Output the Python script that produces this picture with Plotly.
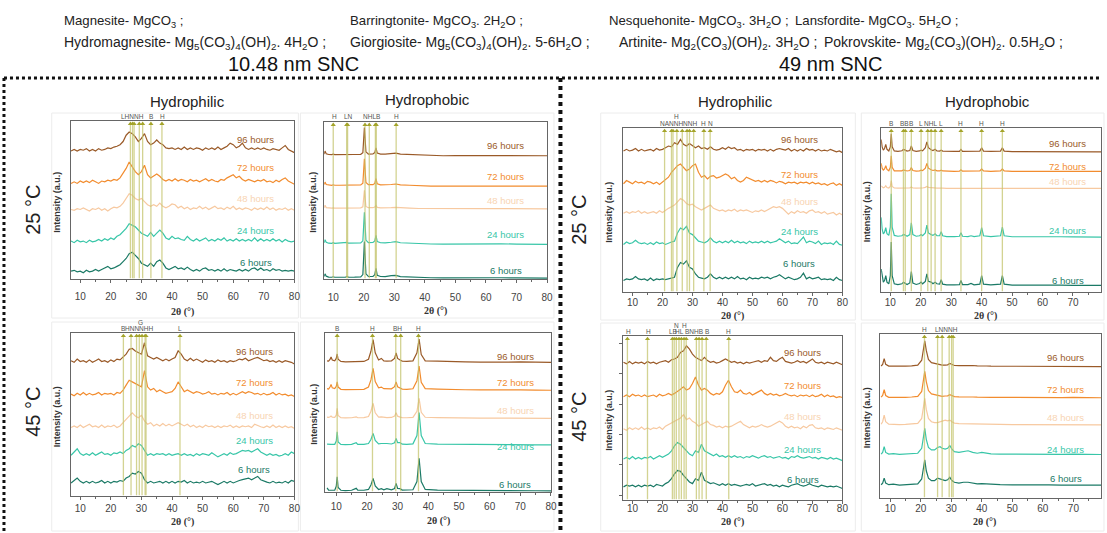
import plotly.graph_objects as go

W, H = 1107, 533

def px(x):
    return x / W

def py(y):
    return 1 - y / H

# ---------------- data ----------------
HOURS = ["96 hours", "72 hours", "48 hours", "24 hours", "6 hours"]
TT = list(range(7, 81))  # 2-theta grid (1 deg) for hydrophilic scans

# 10.48 nm SNC, hydrophilic, 25 C  (intensity above each baseline)
sm_phil25_96 = [1, 2, 1, 2, 1.5, 2.5, 1, 2, 1, 2.5, 1.5, 2, 3, 2.5, 3.5, 4, 5, 7, 11, 13,
                12, 10, 7, 9, 12, 7, 5, 6, 8, 6, 5, 3, 2.5, 3, 2, 3, 2, 3.5, 2, 3,
                2, 3, 2.5, 1.5, 3, 2, 3, 2, 3.5, 2, 3, 4, 6, 5, 3, 4, 6, 3, 2, 3,
                2, 3, 2, 3, 2, 1.5, 2.5, 2, 1.5, 3, 4.5, 2, 1, 0]
sm_phil25_72 = [0.5, 1.5, 0.5, 2, 1, 2, 1, 2.5, 1.5, 0.5, 2, 1.5, 2.5, 2, 3, 2.5, 4, 7, 10, 14,
                11, 8, 6, 8, 12, 6, 4, 5, 6.5, 5, 3, 2, 3, 2, 3.5, 2, 3, 2.5, 1.5, 3,
                2, 2.5, 1.5, 2.5, 3.5, 2, 3, 2, 1.5, 3, 2.5, 4, 5, 6, 4, 5, 3, 2, 3, 2,
                1.5, 2.5, 2, 3, 1.5, 2, 1, 2.5, 1.5, 3, 4, 2, 1, 0]
sm_phil25_48 = [1, 0.5, 1.5, 1, 2, 1, 0, 1.5, 1, 2, 0.5, 1.5, 0, 1.5, 2.5, 2, 3, 5, 8, 11,
                10, 8, 7, 8, 6, 4, 3, 4, 3, 5, 3, 2, 3, 4.5, 4, 2, 3, 1.5, 2.5, 1,
                2, 1.5, 3, 1.5, 2.5, 1, 2, 3, 1.5, 2, 1, 2.5, 1.5, 3, 1, 2, 1, 2, 1.5, 0.5,
                2, 1, 2, 1, 2.5, 1, 2, 0.5, 1.5, 1, 2, 0.5, 1.5, 0.5]
sm_phil25_24 = [1, 0, 1.5, 0.5, 1, 0, 1.5, 0.5, 1, 2, 1, 2.5, 1.5, 3, 2, 4, 5, 7, 9, 12,
                11, 10, 8, 6, 5, 4, 6.5, 4, 6, 8, 6, 3, 2, 4, 2.5, 3, 2, 1.5, 4, 2,
                1, 2.5, 1, 2, 3, 1, 2, 1, 2.5, 1.5, 3, 1, 2, 1, 2.5, 1, 2, 1, 2, 1,
                3, 1, 2.5, 1, 2, 1, 2.5, 1, 2, 0.5, 2, 1, 0.5, 1]
sm_phil25_6 = [1, 1.5, 0.5, 1, 0, 1.5, 0.5, 1, 2, 1, 2, 3, 4, 2.5, 3, 4, 5, 7, 9, 12,
               13, 11, 9, 6, 5, 4, 6, 4, 7, 8, 6, 3, 2, 3, 4, 2.5, 3, 2, 3.5, 2,
               1, 2, 1, 2.5, 3, 1.5, 2, 1, 2, 1, 2.5, 1, 2, 1.5, 1, 2, 1, 2, 1, 2.5,
               3, 1.5, 3, 1.5, 2, 1, 2.5, 1.5, 2, 1, 1.5, 1, 1.5, 1]
sm_phil25_offset = [80, 60, 43, 23, 4]
sm_phil25_peaks = [26.4, 27.1, 27.6, 29.3, 30.4, 33.1, 36.7]
sm_phil25_tags = ["LHNNH", "B", "H"]
sm_phil25_tag_x = [27.0, 33.1, 36.9]

# 10.48 nm SNC, hydrophilic, 45 C
sm_phil45_96 = [2, 1, 3, 1.5, 2, 1, 2.5, 1, 2, 3, 1.5, 2, 1, 2.5, 1.5, 3, 2.5, 4, 6, 9,
                9.5, 8, 7, 6, 13, 5, 4, 3, 4, 3, 2, 3, 2, 3, 4, 8, 6, 3, 2, 3.5,
                2, 3, 2, 1, 2.5, 1.5, 2, 1, 2.5, 1.5, 2, 1, 2, 1.5, 2, 3, 2.5, 3.5, 2, 3,
                3.5, 4, 3, 2, 2.5, 1.5, 2, 1, 2, 1, 2, 1.5, 1, 0]
sm_phil45_72 = [1.5, 0.5, 2, 1, 2.5, 1, 2, 1, 1.5, 2.5, 1, 2, 1.5, 2, 1, 2.5, 2, 4, 7, 10,
                9, 8, 7, 6, 16, 6, 4, 5, 3, 4, 3, 2, 2.5, 3, 5, 9, 6, 3, 4, 3,
                2, 3, 2.5, 1.5, 2, 3, 1.5, 2, 1, 2, 1.5, 2.5, 1, 2, 1, 2, 3, 2, 3, 2.5,
                1.5, 2, 1, 2, 1, 1.5, 2.5, 1, 2, 1, 1.5, 0.5, 1, 0]
sm_phil45_48 = [1, 2, 1, 2.5, 1, 2, 3, 1.5, 2, 1, 2.5, 1, 2, 1.5, 2.5, 1, 2, 4, 6, 8,
                10, 8, 7, 8.5, 5, 3, 4, 2, 3, 2, 3.5, 2, 3, 2, 3, 4, 3, 2, 3, 1.5,
                2.5, 1, 2, 1, 2.5, 1.5, 2, 1, 2, 1, 2, 1.5, 2.5, 1, 2, 1, 2, 1.5, 2, 1,
                3, 2, 1.5, 1, 2, 1, 2.5, 1, 2, 1, 2, 1, 1.5, 0.5]
sm_phil45_24 = [1, 3, 5, 2, 1, 2, 1, 2.5, 1, 2, 3, 1.5, 2, 1, 2.5, 2, 3, 2, 4, 5,
                7, 6, 8, 7, 4, 1, 2, 1, 2, 1.5, 2, 1, 2, 1, 1.5, 2, 1, 2, 1, 1.5,
                0.5, 2, 1, 2, 1.5, 1, 2.5, 1, 0, 1, 2, 1, 2.5, 1.5, 2, 3, 4, 3.5, 4, 3,
                4, 5, 3, 2, 1, 2, 1, 1.5, 0.5, 1, 2, 1, 3, 2]
sm_phil45_6 = [1, 2.5, 4, 2, 1, 2, 1, 2, 1, 1.5, 2.5, 1, 2, 1, 2, 1.5, 2.5, 2, 4, 5,
               7, 6.5, 8, 7, 3, 1, 2, 1, 1.5, 2, 1, 2, 1, 2, 1, 2, 1.5, 2.5, 1, 2,
               1, 1.5, 1, 2, 1, 1.5, 2, 1, 0, 1, 2, 1, 2, 1, 2, 2.5, 3, 3.5, 4, 3,
               4, 5, 3, 2, 1.5, 1, 2, 1, 1.5, 1, 2, 1, 2.5, 2]
sm_phil45_offset = [81, 61, 41, 24, 7]
sm_phil45_peaks = [24.1, 26.6, 28.4, 29.3, 30.2, 31.2, 31.5, 42.6]
sm_phil45_tags = ["B", "HNNNHH", "L"]
sm_phil45_tag_x = [24.1, 29.1, 42.6]
sm_phil45_top_tags = ["G"]
sm_phil45_top_x = [29.6]

# 10.48 nm SNC, hydrophobic, 25 C
sm_phob25_x = [7, 7.3, 7.7, 8.5, 9.5, 10, 10.5, 12, 14, 14.5, 15, 17, 19, 19.7, 20.2, 20.7, 21.5,
               23, 23.6, 24, 24.4, 25.5, 27, 29, 30.5, 32, 35, 38, 42, 46, 50, 55, 60, 65, 70, 75, 80]
sm_phob25_96 = [0.5, 2.5, 0.8, 0.3, 0.2, 0.5, 0.2, 0.3, 0.2, 0.6, 0.2, 0.3, 0.4, 1.5, 17.5, 2.0, 0.6,
                0.7, 1.5, 4.5, 1.2, 0.6, 0.5, 0.8, 1.2, 0.5, 0.3, -0.3, -0.5, -0.5, -0.4, -0.5, -0.4, -0.3, -0.5, -0.4, -0.5]
sm_phob25_72 = [0.6, 2.2, 0.7, 0.3, 0.2, 0.5, 0.2, 0.2, 0.3, 0.6, 0.2, 0.3, 0.4, 1.5, 17.0, 2.0, 0.6,
                0.6, 1.4, 4.5, 1.1, 0.5, 0.4, 0.7, 1.0, 0.4, 0.2, -0.2, -0.4, -0.4, -0.3, -0.4, -0.3, -0.3, -0.4, -0.3, -0.4]
sm_phob25_48 = [0.4, 2.0, 0.5, 0.2, 0.1, 0.3, 0.1, 0.2, 0.1, 0.4, 0.1, 0.2, 0.3, 1.0, 11.5, 1.2, 0.4,
                0.4, 0.8, 1.8, 0.6, 0.3, 0.2, 0.4, 0.6, 0.3, 0.1, -0.1, -0.2, -0.2, -0.2, -0.3, -0.2, -0.2, -0.3, -0.2, -0.3]
sm_phob25_24 = [0.6, 2.5, 0.9, 0.3, 0.2, 0.6, 0.2, 0.3, 0.3, 0.8, 0.3, 0.3, 0.5, 1.8, 20.0, 2.3, 0.7,
                0.8, 1.8, 5.3, 1.3, 0.6, 0.5, 0.9, 1.3, 0.6, 0.3, 0.0, -0.2, -0.3, -0.2, -0.3, -0.2, -0.1, -0.3, -0.2, -0.4]
sm_phob25_6 = [0.8, 2.5, 1.0, 0.4, 0.3, 0.6, 0.3, 0.4, 0.3, 0.9, 0.3, 0.4, 0.6, 2.0, 23.0, 2.5, 0.8,
               0.9, 2.0, 6.0, 1.5, 0.8, 0.7, 1.3, 1.5, 0.7, 0.4, 0.2, 0.0, -0.1, 0.0, -0.1, 0.0, 0.0, -0.1, 0.0, -0.2]
sm_phob25_offset = [79, 59.5, 45, 22.5, 0.8]
sm_phob25_peaks = [10.0, 14.4, 14.7, 20.4, 21.8, 23.8, 24.1, 30.6]
sm_phob25_tags = ["H", "LN", "NHLB", "H"]
sm_phob25_tag_x = [10.3, 15.0, 22.6, 30.6]

# 10.48 nm SNC, hydrophobic, 45 C
sm_phob45_x = [7, 7.5, 8, 8.3, 8.7, 9.5, 10, 10.3, 10.6, 11.5, 13, 15, 16.5, 17, 19, 20.5, 21.3, 22, 22.7,
               23.8, 24.7, 25.5, 26.5, 28, 29, 29.5, 30, 30.8, 31.5, 33, 35, 36.3, 37, 37.7, 39, 43, 47, 52,
               57, 61, 65, 70, 75, 80]
sm_phob45_96 = [1.0, 0.8, 2.0, 3.4, 1.5, 1.0, 2.5, 5.3, 2.0, 0.6, 0.4, 0.5, 0.9, 0.5, 0.6, 2.0, 7.0, 14.3, 6.0,
                1.5, 2.5, 1.0, 0.8, 1.0, 2.5, 5.9, 2.5, 1.5, 0.8, 0.6, 1.0, 6.0, 14.7, 5.0, 1.0, 0.8, 0.4, 0.3,
                0.2, 0.4, 0.2, 0.3, 0.1, 0.0]
sm_phob45_72 = [1.0, 0.8, 2.2, 3.6, 1.5, 1.0, 2.5, 5.3, 2.0, 0.6, 0.4, 0.5, 0.8, 0.5, 0.6, 2.0, 6.5, 13.7, 5.5,
                1.5, 2.0, 1.0, 0.8, 0.9, 2.2, 5.3, 2.2, 1.3, 0.7, 0.5, 0.9, 6.0, 15.2, 5.0, 1.0, 0.7, 0.4, 0.3,
                0.2, 0.3, 0.2, 0.2, 0.1, 0.0]
sm_phob45_48 = [0.8, 0.6, 1.0, 1.5, 0.8, 0.6, 2.0, 6.3, 1.8, 0.4, 0.3, 0.4, 1.0, 0.4, 0.5, 1.2, 4.5, 9.5, 3.5,
                0.8, 1.0, 0.6, 0.5, 0.6, 1.4, 3.6, 1.4, 0.8, 0.5, 0.4, 0.6, 4.5, 12.6, 3.8, 0.7, 0.5, 0.3, 0.2,
                0.2, 0.2, 0.1, 0.2, 0.1, 0.0]
sm_phob45_24 = [0.6, 0.4, 0.5, 0.5, 0.4, 0.5, 2.5, 8.4, 2.0, 0.4, 0.3, 0.5, 1.5, 0.5, 0.5, 1.0, 3.5, 7.4, 3.0,
                0.8, 1.0, 0.8, 1.0, 0.7, 1.5, 4.2, 1.5, 1.5, 0.6, 0.5, 0.8, 6.0, 20.4, 6.0, 1.0, 0.6, 0.6, 0.3,
                0.3, 0.4, 0.3, 0.3, 0.2, 0.1]
sm_phob45_6 = [2.0, 0.6, 0.5, 0.5, 0.4, 0.5, 3.0, 9.0, 2.2, 0.5, 0.3, 0.5, 1.7, 0.5, 0.5, 1.0, 3.8, 8.0, 3.2,
               1.0, 1.5, 0.8, 1.5, 0.8, 1.6, 4.8, 1.6, 1.5, 0.6, 0.5, 0.8, 6.0, 20.6, 6.0, 1.0, 0.6, 0.6, 0.3,
               0.3, 0.5, 0.3, 0.3, 0.2, 0.1]
sm_phob45_offset = [81.5, 64, 46.3, 29.5, 0.6]
sm_phob45_peaks = [10.3, 21.8, 29.4, 31.0, 36.8]
sm_phob45_tags = ["B", "H", "BH", "H"]
sm_phob45_tag_x = [10.3, 21.8, 30.1, 36.8]

# 49 nm SNC, hydrophilic, 25 C
lg_phil25_96 = [1, 2, 1, 1.5, 2.5, 1, 2, 1, 1.5, 2, 1, 2.5, 1.5, 2, 3, 4, 3.5, 6, 5, 8,
                5, 4, 5.5, 4, 3, 4, 2.5, 3, 2, 3.5, 2, 1.5, 2, 3, 2, 3.5, 2.5, 3, 1.5, 2,
                1, 2, 1.5, 2, 1, 2, 1.5, 2, 1, 2, 1, 2, 2.5, 2, 1.5, 2.5, 1, 2, 1, 2,
                1, 2.5, 1.5, 2, 1, 2, 1, 1.5, 1, 2, 1, 0.5, 1, 0]
lg_phil25_72 = [1, 3, 2, 1, 2.5, 1.5, 2, 1, 2.5, 2, 1, 2, 0.5, 2, 3, 5, 8, 10, 12, 13,
                11, 9, 10, 12, 13, 8, 5, 6, 4, 5.5, 6, 4.5, 5, 6, 7, 6, 4, 5, 3, 2,
                3, 5, 4, 3.5, 2.5, 3, 2, 3, 2, 3, 2.5, 1.5, 2.5, 2, 1, 2, 1.5, 2, 1, 2,
                1.5, 2, 1, 2, 1, 1.5, 0.5, 1, 0, 1, 1.5, 0, 1, 0]
lg_phil25_48 = [1, 2, 1, 2, 1.5, 2.5, 1, 2, 1, 1.5, 2, 1, 2.5, 1.5, 3, 4, 5, 6, 8, 10,
                9, 7, 6, 6.5, 5, 4, 3, 4, 5, 6, 4, 3, 2.5, 3, 2, 3, 2.5, 3.5, 2, 3,
                2.5, 3, 2, 1.5, 2.5, 2, 3, 2, 3, 4, 5, 4.5, 5, 4, 2, 0.5, 2, 1, 2.5, 1.5,
                2, 1, 2.5, 3, 1.5, 2, 1, 2, 0.5, 1, 1.5, 0, 1, 0]
lg_phil25_24 = [1, 2.5, 1.5, 2, 3.5, 2, 1.5, 2, 1, 2, 1, 2.5, 1.5, 2, 1, 2, 2.5, 3, 8, 11,
                10, 12, 8, 7, 5, 3, 2.5, 2, 3, 5, 3, 2, 3, 2, 3, 2, 3.5, 2, 3, 2,
                2.5, 1.5, 3, 2, 2.5, 2, 3, 2, 3, 2, 2.5, 3, 4.5, 3, 2, 3, 1.5, 2, 1.5, 3.5,
                5.5, 2, 3, 2.5, 1.5, 3, 1, 2, 1.5, 2, 1, 3, 1, 0.5]
lg_phil25_6 = [1, 2, 1.5, 2, 3.5, 2, 1.5, 2, 1, 2.5, 1, 2, 1.5, 2, 1.5, 2, 2.5, 3, 9, 12,
               11, 13, 9, 8, 5, 3, 2.5, 2, 3, 5, 3, 2, 3, 2, 3, 2, 3, 2, 3.5, 2,
               2.5, 1.5, 3, 2, 2.5, 2, 3, 2.5, 3, 2, 3, 3.5, 4.5, 3, 2, 3, 2, 1.5, 2, 3,
               5.5, 2, 3, 2, 2.5, 3, 1.5, 2, 1.5, 2, 1, 3, 1.5, 1]
lg_phil25_offset = [85, 65, 47, 28, 6]
lg_phil25_peaks = [20.7, 23.0, 23.5, 24.8, 26.6, 28.2, 29.0, 30.4, 33.8, 35.9]
lg_phil25_tags = ["NANNHNNH", "H", "N"]
lg_phil25_tag_x = [25.4, 33.8, 36.0]
lg_phil25_top_tags = ["H"]
lg_phil25_top_x = [24.8]

# 49 nm SNC, hydrophilic, 45 C
lg_phil45_96 = [2, 1, 2.5, 1, 2, 1.5, 2, 1, 2.5, 1.5, 2, 1, 2, 2.5, 3, 2, 3.5, 4, 5, 8,
                9, 12, 10, 7, 5, 4, 3, 5, 3, 2, 2.5, 1.5, 2, 3, 4, 3, 2, 2.5, 1.5, 2,
                1, 2, 1.5, 2, 2.5, 3, 2, 3, 2.5, 5, 3, 2.5, 4, 5, 2.5, 2, 1.5, 2, 3, 2,
                2.5, 1.5, 3, 4, 2, 1.5, 2, 1, 2, 1.5, 1, 2, 1, 0.5]
lg_phil45_72 = [1, 2, 1, 2.5, 1.5, 2, 1, 2, 1, 1.5, 2, 1, 2.5, 1.5, 2, 3, 2, 3, 4, 5.5,
                7, 5, 6, 9, 13, 8, 5, 6, 5, 3, 2, 3, 2.5, 4, 8, 11, 7, 4, 3.5, 5,
                3, 2.5, 3.5, 2, 3, 4, 5, 3, 2, 3, 2, 2.5, 1.5, 2, 3, 2, 1.5, 2, 1, 2,
                1.5, 2, 1, 2, 1, 1.5, 2.5, 1, 2, 1, 1.5, 0.5, 1, 0.5]
lg_phil45_48 = [1.5, 0.5, 2, 1, 2, 1, 2.5, 1, 2, 1, 2, 1.5, 2.5, 1, 3, 4, 5, 6, 7, 8,
                10, 7, 8, 6, 5, 3, 4, 5, 6, 4, 3.5, 2.5, 3, 2, 3, 2.5, 3, 4, 5, 6,
                4, 3, 2, 3, 2.5, 3, 4, 3, 2.5, 3, 4, 5, 6, 5, 3, 2, 3, 2, 2.5, 1.5,
                3, 2, 3.5, 4, 2, 1.5, 2, 1, 2, 1.5, 1, 2, 1, 0.5]
lg_phil45_24 = [1, 2, 1, 2.5, 1, 2, 1, 2, 1.5, 2.5, 1, 2, 3, 2, 3, 4, 6, 9, 11, 10,
                8, 6, 4, 3, 6, 5, 10, 6, 5, 4, 3, 4, 2.5, 3, 2, 3, 2, 3, 2, 2.5,
                1.5, 2.5, 2, 3, 2, 1.5, 2.5, 3, 2, 2.5, 1.5, 2, 2.5, 1.5, 2, 1, 2.5, 2, 3, 2,
                1.5, 2, 2.5, 1.5, 2, 1, 2, 1.5, 1, 2, 1, 1.5, 0.5, 0]
lg_phil45_6 = [1, 2, 1.5, 2, 1, 2, 1, 2, 1.5, 2, 1, 2.5, 2, 1.5, 3, 4, 6, 9, 11, 10.5,
               8, 6, 4, 3, 6, 5, 10, 5, 4, 3, 3.5, 2.5, 2, 3, 2, 3, 2, 2.5, 2, 1.5,
               2, 2.5, 2, 3, 1.5, 2, 2.5, 3, 2, 2.5, 1.5, 2, 1, 2, 1.5, 1, 2, 2.5, 3, 2,
               1.5, 2, 3, 2, 1.5, 1, 2, 1.5, 1, 1.5, 1, 1.5, 0.5, 0]
lg_phil45_offset = [82, 62, 42, 24, 7]
lg_phil45_peaks = [8.3, 15.0, 23.3, 23.9, 24.6, 25.5, 26.3, 27.2, 27.9, 31.3, 32.2, 33.2, 34.6, 42.1]
lg_phil45_tags = ["H", "H", "LB", "HL", "BNHB", "B", "H"]
lg_phil45_tag_x = [8.5, 15.2, 23.5, 25.8, 30.4, 34.7, 42.1]
lg_phil45_top_tags = ["N", "H"]
lg_phil45_top_x = [24.8, 27.5]

# 49 nm SNC, hydrophobic, 25 C
lg_phob25_x = [7, 7.3, 7.7, 8.1, 8.5, 8.9, 9.5, 10, 10.3, 10.6, 11.3, 12.5, 13.8, 14.3, 14.9, 15.5,
               16.4, 16.9, 17.4, 18.5, 19.6, 20.1, 20.6, 21.5, 22, 22.5, 23.4, 24, 24.7, 25.3, 26.2,
               26.7, 27.2, 28.5, 31, 32.7, 33.2, 33.7, 35.5, 36.5, 37.5, 39.4, 40, 40.6, 43, 46.2,
               46.8, 47.4, 50, 54, 58, 62, 66, 70, 75, 80]
lg_phob25_96 = [7.5, 3.0, 1.0, 2.0, 4.5, 1.5, 0.5, 3.0, 11.0, 3.0, 0.5, 0.3, 0.6, 1.4, 1.0, 0.4,
                0.8, 3.5, 0.8, 0.3, 0.5, 1.0, 0.6, 2.5, 6.0, 2.5, 1.2, 0.8, 1.5, 0.5, 0.4,
                1.0, 0.4, 0.2, 0.2, 0.3, 1.4, 0.3, 0.2, 0.4, 0.2, 0.4, 2.4, 0.4, 0.2, 0.4,
                2.4, 0.4, 0.1, 0.1, 0.1, 0.0, 0.1, 0.0, 0.0, 0.0]
lg_phob25_72 = [5.0, 2.0, 0.8, 1.5, 3.5, 1.2, 0.4, 2.5, 9.5, 2.5, 0.4, 0.2, 0.4, 1.0, 0.7, 0.3,
                0.6, 2.4, 0.6, 0.2, 0.4, 0.8, 0.5, 2.0, 4.9, 2.0, 1.0, 0.6, 1.0, 0.4, 0.3,
                0.8, 0.3, 0.1, 0.1, 0.2, 1.0, 0.2, 0.1, 0.3, 0.1, 0.3, 1.5, 0.3, 0.1, 0.3,
                1.5, 0.3, 0.1, 0.0, 0.1, 0.0, 0.0, 0.0, 0.0, 0.0]
lg_phob25_48 = [1.5, 0.8, 0.3, 0.6, 1.6, 0.5, 0.2, 1.2, 4.7, 1.2, 0.2, 0.1, 0.2, 0.4, 0.3, 0.1,
                0.2, 0.8, 0.2, 0.1, 0.1, 0.3, 0.2, 0.6, 1.2, 0.6, 0.3, 0.2, 0.3, 0.1, 0.1,
                0.2, 0.1, 0.0, 0.0, 0.1, 0.3, 0.1, 0.0, 0.1, 0.0, 0.1, 0.4, 0.1, 0.0, 0.1,
                0.4, 0.1, 0.0, 0.0, 0.0, 0.0, 0.0, 0.0, 0.0, 0.0]
lg_phob25_24 = [12.0, 5.0, 2.0, 3.0, 5.7, 2.0, 1.0, 6.0, 26.4, 6.0, 1.0, 0.5, 0.8, 1.6, 1.2, 0.5,
                1.5, 8.7, 1.5, 0.5, 0.8, 1.5, 0.8, 2.5, 7.3, 2.5, 1.5, 1.0, 2.0, 0.8, 0.8,
                3.3, 0.8, 0.3, 0.3, 0.5, 2.6, 0.5, 0.3, 0.8, 0.3, 0.8, 5.7, 0.8, 0.3, 0.8,
                6.1, 0.8, 0.2, 0.3, 0.2, 0.1, 0.2, 0.1, 0.1, 0.0]
lg_phob25_6 = [10.0, 5.0, 2.0, 3.0, 6.0, 2.0, 1.0, 6.0, 26.4, 6.0, 1.0, 0.5, 1.0, 2.0, 1.2, 0.5,
               1.5, 8.5, 1.5, 0.6, 1.2, 2.0, 1.0, 2.5, 7.0, 2.5, 2.0, 1.0, 2.0, 1.0, 0.8,
               3.5, 0.8, 0.3, 0.3, 0.5, 3.0, 0.5, 0.5, 1.2, 0.4, 0.8, 6.0, 0.8, 0.3, 0.8,
               6.0, 0.8, 0.2, 0.3, 0.2, 0.1, 0.2, 0.1, 0.1, 0.0]
lg_phob25_offset = [85.5, 73.5, 63.2, 33.5, 4]
lg_phob25_peaks = [10.3, 14.3, 14.9, 16.9, 20.1, 22.3, 23.4, 24.7, 26.7, 33.2, 40.0, 46.8]
lg_phob25_tags = ["B", "BB", "B", "L", "NHL", "L", "H", "H", "H"]
lg_phob25_tag_x = [10.3, 14.7, 16.9, 20.1, 23.2, 26.7, 33.2, 40.0, 46.8]

# 49 nm SNC, hydrophobic, 45 C
lg_phob45_x = [7, 7.5, 8, 8.5, 9.5, 11, 13, 15, 17, 19, 20.3, 20.8, 21.3, 21.8, 22.5, 23.5, 24.5, 25.5,
               26.3, 27, 28, 28.8, 29.5, 30.2, 31, 32.5, 34, 35.5, 37, 38.5, 40, 41.5, 43, 46, 50, 54,
               58, 62, 66, 70, 75, 80]
lg_phob45_96 = [0.5, 1.5, 5.0, 1.5, 0.4, 0.3, 0.3, 0.4, 0.6, 1.0, 4.0, 11.0, 15.8, 10.0, 4.5, 2.5, 2.0, 1.5,
                1.2, 1.0, 1.0, 1.2, 2.0, 1.3, 0.8, 0.7, 0.8, 1.0, 0.8, 0.6, 0.7, 0.5, 0.4, 0.4, 0.3, 0.5,
                0.3, 0.4, 0.2, 0.3, 0.2, 0.1]
lg_phob45_72 = [0.5, 1.5, 5.0, 1.5, 0.4, 0.3, 0.3, 0.4, 0.6, 1.0, 4.0, 11.5, 16.2, 10.0, 4.5, 2.5, 2.0, 1.5,
                1.2, 1.0, 1.2, 1.3, 2.0, 1.3, 0.8, 0.7, 0.8, 0.8, 0.6, 0.5, 0.6, 0.5, 0.4, 0.4, 0.3, 0.4,
                0.3, 0.3, 0.2, 0.3, 0.2, 0.1]
lg_phob45_48 = [0.5, 2.0, 6.0, 2.0, 0.5, 0.3, 0.3, 0.4, 0.5, 1.0, 4.0, 11.5, 16.2, 9.5, 4.0, 2.0, 1.5, 1.5,
                2.0, 2.5, 3.0, 2.5, 3.0, 2.0, 1.2, 0.8, 0.8, 0.7, 0.6, 0.5, 0.6, 0.5, 0.4, 0.4, 0.3, 0.3,
                0.3, 0.4, 0.2, 0.3, 0.2, 0.1]
lg_phob45_24 = [0.5, 1.5, 5.0, 1.5, 0.5, 0.8, 0.3, 0.4, 0.6, 1.0, 4.0, 11.5, 16.2, 9.5, 4.5, 3.0, 3.0, 4.5,
                5.0, 4.0, 3.5, 4.0, 5.7, 3.5, 2.0, 1.5, 2.0, 2.5, 1.5, 1.0, 1.5, 1.0, 0.6, 0.5, 0.4, 0.5,
                0.4, 0.5, 0.3, 0.4, 0.3, 0.2]
lg_phob45_6 = [0.5, 1.5, 4.5, 1.5, 0.5, 0.8, 0.3, 0.4, 0.6, 1.0, 4.0, 11.0, 15.6, 9.0, 4.5, 3.0, 3.0, 4.5,
               4.0, 3.5, 3.0, 3.5, 5.0, 3.0, 2.0, 1.5, 2.0, 2.0, 1.5, 1.0, 1.2, 1.0, 0.6, 0.5, 0.4, 0.5,
               0.4, 0.4, 0.3, 0.4, 0.3, 0.2]
lg_phob45_offset = [80, 61, 44.5, 26.3, 7.6]
lg_phob45_peaks = [21.2, 25.5, 27.0, 29.3, 30.1, 30.6]
lg_phob45_tags = ["H", "LNNNH"]
lg_phob45_tag_x = [21.2, 28.3]

# ---------------- styles / layout ----------------
COLORS = ["#9a5a28", "#f28c2e", "#f7c9a0", "#38c6a8", "#1b7a66"]
LABEL_COLORS = ["#9a5a28", "#f28c2e", "#f8d4b2", "#38c6a8", "#1b7a66"]
FONT = "Arial, Liberation Sans, sans-serif"

panels = [
    dict(x=TT, s=[sm_phil25_96, sm_phil25_72, sm_phil25_48, sm_phil25_24, sm_phil25_6], off=sm_phil25_offset,
         peaks=sm_phil25_peaks, tags=sm_phil25_tags, tag_x=sm_phil25_tag_x, top=([], []),
         box=(71, 296, 121, 279), xr=(6.85, 80), lx=67.3, ly=[88.4, 70.5, 51, 30.6, 10.3], std=5,
         ylab=57, xlab=312),
    dict(x=sm_phob25_x, s=[sm_phob25_96, sm_phob25_72, sm_phob25_48, sm_phob25_24, sm_phob25_6], off=sm_phob25_offset,
         peaks=sm_phob25_peaks, tags=sm_phob25_tags, tag_x=sm_phob25_tag_x, top=([], []),
         box=(326, 550, 122, 279), xr=(7.05, 80), lx=66.5, ly=[84.8, 65, 49.7, 28.5, 5.3], std=6,
         ylab=315, xlab=311),
    dict(x=TT, s=[sm_phil45_96, sm_phil45_72, sm_phil45_48, sm_phil45_24, sm_phil45_6], off=sm_phil45_offset,
         peaks=sm_phil45_peaks, tags=sm_phil45_tags, tag_x=sm_phil45_tag_x, top=(sm_phil45_top_tags, sm_phil45_top_x),
         box=(71, 296, 333, 496), xr=(6.85, 80), lx=66.8, ly=[88.7, 69.7, 49.2, 34, 16.4], std=0,
         ylab=57, xlab=522),
    dict(x=sm_phob45_x, s=[sm_phob45_96, sm_phob45_72, sm_phob45_48, sm_phob45_24, sm_phob45_6], off=sm_phob45_offset,
         peaks=sm_phob45_peaks, tags=sm_phob45_tags, tag_x=sm_phob45_tag_x, top=([], []),
         box=(327, 554, 333, 492), xr=(6.4, 80), lx=68.4, ly=[85.3, 68.8, 51.2, 28.8, 4.8], std=2,
         ylab=315, xlab=521),
    dict(x=TT, s=[lg_phil25_96, lg_phil25_72, lg_phil25_48, lg_phil25_24, lg_phil25_6], off=lg_phil25_offset,
         peaks=lg_phil25_peaks, tags=lg_phil25_tags, tag_x=lg_phil25_tag_x, top=(lg_phil25_top_tags, lg_phil25_top_x),
         box=(626, 847, 128, 292), xr=(6.7, 80), lx=65.6, ly=[92.9, 71.4, 55.1, 36.7, 17.3], std=-2,
         ylab=612, xlab=316),
    dict(x=lg_phob25_x, s=[lg_phob25_96, lg_phob25_72, lg_phob25_48, lg_phob25_24, lg_phob25_6], off=lg_phob25_offset,
         peaks=lg_phob25_peaks, tags=lg_phob25_tags, tag_x=lg_phob25_tag_x, top=([], []),
         box=(886, 1107, 128, 292), xr=(7.0, 79.2), lx=68.3, ly=[90.4, 76.8, 67.5, 37.6, 7.1], std=-2,
         ylab=872, xlab=316),
    dict(x=TT, s=[lg_phil45_96, lg_phil45_72, lg_phil45_48, lg_phil45_24, lg_phil45_6], off=lg_phil45_offset,
         peaks=lg_phil45_peaks, tags=lg_phil45_tags, tag_x=lg_phil45_tag_x, top=(lg_phil45_top_tags, lg_phil45_top_x),
         box=(626, 847, 336, 500), xr=(6.7, 80), lx=66.7, ly=[90, 70, 51, 30.5, 12.6], std=-4,
         ylab=612, xlab=522, yticks=True),
    dict(x=lg_phob45_x, s=[lg_phob45_96, lg_phob45_72, lg_phob45_48, lg_phob45_24, lg_phob45_6], off=lg_phob45_offset,
         peaks=lg_phob45_peaks, tags=lg_phob45_tags, tag_x=lg_phob45_tag_x, top=([], []),
         box=(885, 1107, 334, 498), xr=(6.7, 79.05), lx=67.5, ly=[85.6, 66.3, 49.1, 29.8, 11.6], std=-2,
         ylab=872, xlab=522),
]

fig = go.Figure()
annotations = []
shapes = []
layout = {}


def note(x, y, text, size, color="#222", family=FONT, xref="paper", yref="paper", xanchor="center", angle=0):
    annotations.append(dict(x=x, y=y, xref=xref, yref=yref, text=text, showarrow=False,
                            xanchor=xanchor, yanchor="middle", textangle=angle,
                            font=dict(family=family, size=size, color=color)))


# faint frames of the sub-images
frames = [(52, 300, 113, 318), (302, 557, 113, 318), (52, 300, 322, 531), (302, 557, 322, 531),
          (604, 860, 113, 320), (866, 1110, 113, 320), (604, 860, 323, 531), (866, 1110, 323, 531)]
for (x0, x1, y0, y1) in frames:
    shapes.append(dict(type="rect", xref="paper", yref="paper", x0=px(x0), x1=px(x1), y0=py(y1), y1=py(y0),
                       line=dict(color="#ececec", width=1), layer="below"))

for k, p in enumerate(panels):
    n = k + 1
    xa = "x" if n == 1 else f"x{n}"
    ya = "y" if n == 1 else f"y{n}"
    x0, x1, y0, y1 = p["box"]
    for i in range(5):
        yv = [v + p["off"][i] for v in p["s"][i]]
        fig.add_trace(go.Scatter(x=p["x"], y=yv, mode="lines", xaxis=xa, yaxis=ya,
                                 line=dict(color=COLORS[i], width=1.2), showlegend=False, hoverinfo="skip"))
        note(p["lx"], p["ly"][i], HOURS[i], 9.5, LABEL_COLORS[i], xref=xa, yref=ya)
    # reference peak lines
    lxs, lys = [], []
    for pk in p["peaks"]:
        lxs += [pk, pk, None]
        lys += [0.5, 98, None]
    fig.add_trace(go.Scatter(x=lxs, y=lys, mode="lines", xaxis=xa, yaxis=ya,
                             line=dict(color="rgba(196,196,110,0.75)", width=1.3), showlegend=False, hoverinfo="skip"))
    fig.add_trace(go.Scatter(x=p["peaks"], y=[98.2] * len(p["peaks"]), mode="markers", xaxis=xa, yaxis=ya,
                             marker=dict(symbol="triangle-up", size=4.5, color="#a4a42a"), showlegend=False,
                             hoverinfo="skip", cliponaxis=False))
    for t, tx in zip(p["tags"], p["tag_x"]):
        note(tx, py(y0 - 5), t, 6.5, "#555", xref=xa)
    for t, tx in zip(p["top"][0], p["top"][1]):
        note(tx, py(y0 - 11), t, 6.5, "#555", xref=xa)
    layout[f"xaxis{n if n > 1 else ''}"] = dict(
        domain=[px(x0), px(x1)], anchor=ya, range=list(p["xr"]), showgrid=False, zeroline=False,
        showline=True, mirror=True, linecolor="#666", linewidth=1, ticks="outside", ticklen=3,
        tickcolor="#666", tick0=0, dtick=10, tickfont=dict(family=FONT, size=10, color="#444"),
        ticklabelstandoff=p["std"], minor=dict(dtick=5, ticks="outside", ticklen=2, tickcolor="#666"))
    ydict = dict(domain=[py(y1), py(y0)], anchor=xa, range=[0, 100], showgrid=False, zeroline=False,
                 showline=True, mirror=True, linecolor="#666", linewidth=1, showticklabels=False)
    if p.get("yticks"):
        ydict.update(ticks="outside", ticklen=3, tickcolor="#666", tickvals=[3, 21.5, 40, 58.5, 77, 95.5])
    else:
        ydict.update(ticks="")
    layout[f"yaxis{n if n > 1 else ''}"] = ydict
    # axis titles
    note(px(p["ylab"]), py((y0 + y1) / 2 + 2), "<b>Intensity (a.u.)</b>", 9, "#333", angle=-90)
    xc = (x0 + x1) / 2 if x1 < 1100 else x0 + 105
    note(px(xc), py(p["xlab"]), "<b>2θ (°)</b>", 10, "#333", family="Liberation Serif, Times New Roman, serif")

# panel titles
for (tx, ty, t) in [(189, 101, "Hydrophilic"), (430, 100, "Hydrophobic"),
                    (740, 101, "Hydrophilic"), (993, 101, "Hydrophobic")]:
    note(px(tx), py(ty), t, 15)

# temperature labels
for (tx, ty, t) in [(33, 210, "25 °C"), (33, 412, "45 °C"), (582, 220, "25 °C"), (582, 417, "45 °C")]:
    note(px(tx), py(ty), t, 20, angle=-90)

# header text
header1 = [
    (62, "Magnesite- MgCO<sub>3</sub> ;"),
    (350, "Barringtonite- MgCO<sub>3</sub>. 2H<sub>2</sub>O ;"),
    (610, "Nesquehonite- MgCO<sub>3</sub>. 3H<sub>2</sub>O ;"),
    (797, "Lansfordite- MgCO<sub>3</sub>. 5H<sub>2</sub>O ;"),
]
header2 = [
    (62, "Hydromagnesite- Mg<sub>5</sub>(CO<sub>3</sub>)<sub>4</sub>(OH)<sub>2</sub>. 4H<sub>2</sub>O ;"),
    (350, "Giorgiosite- Mg<sub>5</sub>(CO<sub>3</sub>)<sub>4</sub>(OH)<sub>2</sub>. 5-6H<sub>2</sub>O ;"),
    (620, "Artinite- Mg<sub>2</sub>(CO<sub>3</sub>)(OH)<sub>2</sub>. 3H<sub>2</sub>O ;"),
    (826, "Pokrovskite- Mg<sub>2</sub>(CO<sub>3</sub>)(OH)<sub>2</sub>. 0.5H<sub>2</sub>O ;"),
]
for (tx, t) in header1:
    note(px(tx), py(21), t, 13.2, xanchor="left")
for (tx, t) in header2:
    note(px(tx), py(43), t, 14, xanchor="left")
note(px(295), py(64), "10.48 nm SNC", 20, "#111")
note(px(835), py(64), "49 nm SNC", 20, "#111")

# dotted separators
dot = dict(color="#111", width=3, dash="dot")
shapes.append(dict(type="line", xref="paper", yref="paper", x0=px(4), x1=1, y0=py(78), y1=py(78), line=dot))
shapes.append(dict(type="line", xref="paper", yref="paper", x0=px(4), x1=px(4), y0=py(78), y1=0, line=dot))
shapes.append(dict(type="line", xref="paper", yref="paper", x0=px(563.5), x1=px(563.5), y0=py(78), y1=0,
                   line=dict(color="#111", width=4, dash="dot")))

fig.update_layout(width=W, height=H, margin=dict(l=0, r=0, t=0, b=0), paper_bgcolor="white",
                  plot_bgcolor="white", annotations=annotations, shapes=shapes, **layout)

fig.write_html("out.html", config={"displayModeBar": False},
               post_script="document.body.style.margin='0px';document.body.style.overflow='hidden';")
